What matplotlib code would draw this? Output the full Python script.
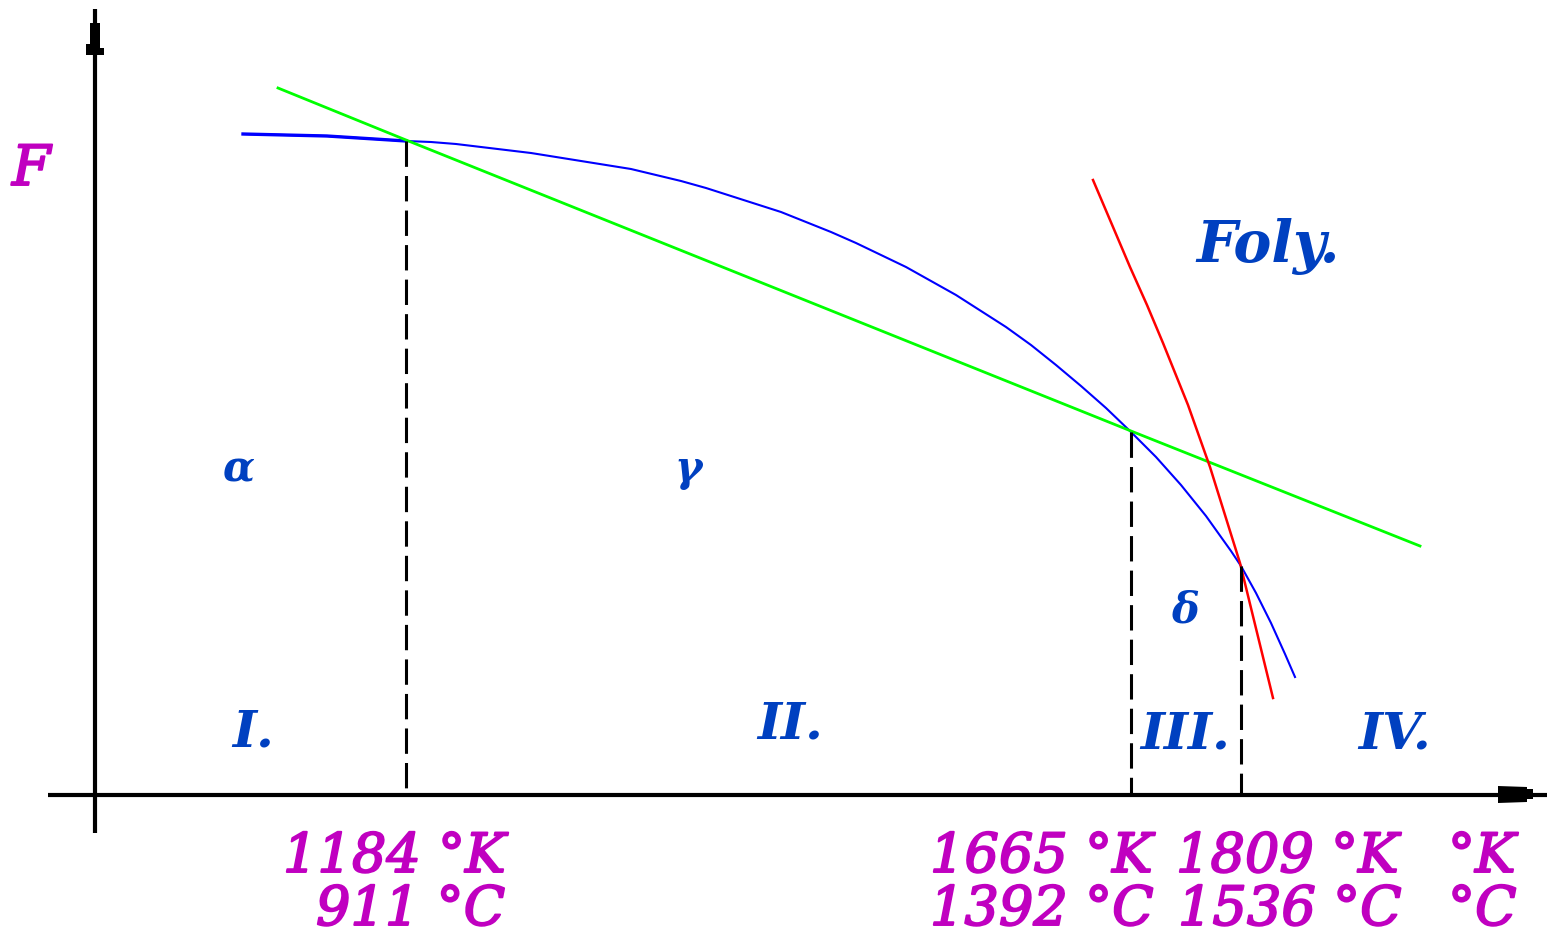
import matplotlib
matplotlib.use("Agg")
import matplotlib.pyplot as plt
import matplotlib.patheffects as pe

# Free energy F versus temperature for iron: schematic phase diagram.
# Coordinates: T along the horizontal axis, F along the vertical axis (arbitrary units).

# Blue curve: F(T) of the iron phases
blue_T = [148, 232, 311, 336, 361, 386, 411, 436, 461, 486, 511, 536, 561,
          586, 611, 636, 661, 686, 711, 736, 761, 786, 811, 836, 861, 886,
          911, 936, 961, 986, 1011, 1036, 1061, 1086, 1111, 1136, 1146,
          1161, 1176, 1190, 1200]
blue_F = [661, 659, 654, 653, 651, 648, 645, 642, 638, 634, 630, 626, 620,
          614, 607, 599, 591, 583, 573, 563, 552, 540, 528, 514, 500, 484,
          468, 450, 430, 409, 387, 363, 338, 310, 279, 244, 229,
          202, 172, 141, 118]

# Green line: gamma-phase tangent
green_T = [183, 311, 1036, 1325]
green_F = [707, 655, 364, 249]

# Red line: liquid phase
red_T = [998, 1018, 1035, 1052, 1068, 1093, 1115, 1145, 1178]
red_F = [615, 568, 528, 490, 452, 390, 328, 232, 97]

# Transition temperatures (positions on the T axis) and their labels
trans_T = [311, 1036, 1146]
trans_F = [654, 363, 229]
kelvin_labels = ["1184 °K", "1665 °K", "1809 °K", "°K"]
celsius_labels = ["911 °C", "1392 °C", "1536 °C", "°C"]

# Region labels
phase_labels = ["α", "γ", "δ"]
region_labels = ["I.", "II.", "III.", "IV."]

MAGENTA = "#c000c0"
LABEL_BLUE = "#0040c0"
FONT = "DejaVu Serif"

fig = plt.figure(figsize=(15.52, 9.38), dpi=100)
ax = fig.add_axes([0, 0, 1, 1])
# origin of the T/F axes sits at 95 px from the left, 795 px from the top
ax.set_xlim(-95, 1552 - 95)
ax.set_ylim(795 - 938, 795)
ax.axis("off")

# axes with blocky arrowheads
ax.plot([0, 0], [-38, 786], color="black", lw=3.0, solid_capstyle="butt")
ax.plot([-47, 1452], [0, 0], color="black", lw=3.0, solid_capstyle="butt")
ax.fill([-5, 5, 5, 9, 9, -9, -9, -5], [772, 772, 747, 747, 740, 740, 751, 751],
        color="black", lw=0)
ax.fill([1403, 1432, 1432, 1438, 1438, 1432, 1432, 1403],
        [9, 8, 6, 6, -4, -4, -7, -8], color="black", lw=0)

# curves
ax.plot(blue_T, blue_F, color="#0000ff", lw=1.5, solid_joinstyle="round")
ax.plot(blue_T[:3], blue_F[:3], color="#0000ff", lw=2.4)
ax.plot(green_T, green_F, color="#00ff00", lw=2.0)
ax.plot(red_T, red_F, color="#ff0000", lw=1.8, solid_joinstyle="round")

# dashed drops at the transition temperatures
for t, f in zip(trans_T, trans_F):
    ax.plot([t, t], [f, 0], color="black", lw=2.2,
            linestyle=(0, (8.3, 3.0)), dash_capstyle="butt")

thick = [pe.withStroke(linewidth=1.4, foreground=MAGENTA)]
mag = dict(family=FONT, style="italic", weight="normal", color=MAGENTA,
           path_effects=thick)
blu = dict(family=FONT, style="italic", weight="bold", color=LABEL_BLUE)

# axis label
ax.text(-83, 610, "F", fontsize=40, va="baseline", ha="left", **mag)

# temperature labels below the axis
k_x = [188, 835, 1081, 1353]
c_x = [221, 835, 1083, 1353]
for x, s in zip(k_x, kelvin_labels):
    ax.text(x, -77, s, fontsize=39, ha="left", va="baseline", **mag)
for x, s in zip(c_x, celsius_labels):
    ax.text(x, -130, s, fontsize=39, ha="left", va="baseline", **mag)

# phase and region names
phase_xy = [(143, 314), (593, 314), (1090, 173)]
for (x, y), s in zip(phase_xy, phase_labels):
    ax.text(x, y, s, fontsize=30, ha="center", va="baseline", **blu)

region_xy = [(158, 49), (695, 57), (1090, 47), (1300, 47)]
for (x, y), s in zip(region_xy, region_labels):
    ax.text(x, y, s, fontsize=37, ha="center", va="baseline", **blu)

ax.text(1173, 533, "Foly.", fontsize=41, ha="center", va="baseline", **blu)

fig.savefig("out.png", dpi=100, facecolor="white")
